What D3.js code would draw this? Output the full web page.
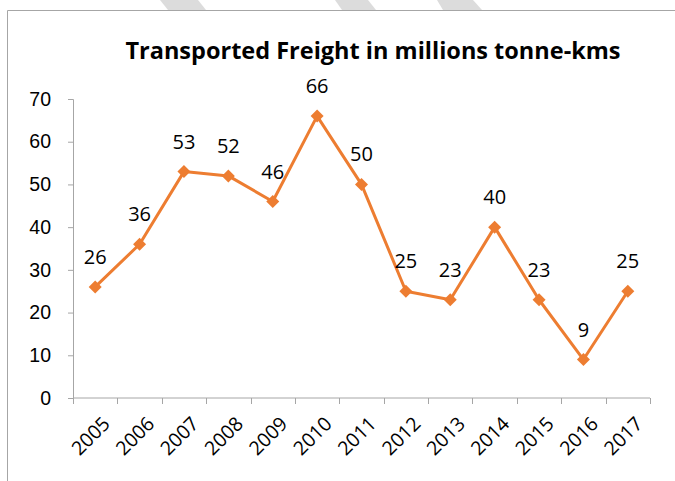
<!DOCTYPE html>
<html>
<head>
<meta charset="utf-8">
<script src="https://cdn.jsdelivr.net/npm/d3@7"></script>
<style>
  body { margin: 0; background: #fff; }
  svg { display: block; font-family: "Open Sans", sans-serif; }
</style>
</head>
<body>
<script>
// dados do gráfico
const years = ["2005", "2006", "2007", "2008", "2009", "2010", "2011",
               "2012", "2013", "2014", "2015", "2016", "2017"];
const freight = [26, 36, 53, 52, 46, 66, 50, 25, 23, 40, 23, 9, 25];
const yTicks = [0, 10, 20, 30, 40, 50, 60, 70];
const title = "Transported Freight in millions tonne-kms";

const W = 675, H = 481;
const margin = { top: 99, right: 25, bottom: 83, left: 73 },
      width = W - margin.left - margin.right,
      height = H - margin.top - margin.bottom;

const svg = d3.select("body").append("svg")
    .attr("width", W)
    .attr("height", H);

// faixas cinzas decorativas no topo
const stripes = [[160, 198, 168, 206], [335, 368, 342, 376], [437, 473, 443, 482]];
svg.selectAll(".stripe")
    .data(stripes)
  .enter().append("polygon")
    .attr("points", d => `${d[0]},0 ${d[1]},0 ${d[3]},10 ${d[2]},10`)
    .attr("fill", "#dcdcdc");

// borda do gráfico
svg.append("path")
    .attr("d", `M7.5,${H} V10.5 H${W}`)
    .attr("fill", "none")
    .attr("stroke", "#a6a6a6")
    .attr("stroke-width", 1);

// título
svg.append("text")
    .attr("x", 373)
    .attr("y", 59)
    .attr("text-anchor", "middle")
    .style("font-size", "23.5px")
    .style("font-weight", "bold")
    .attr("fill", "#000")
    .text(title);

const g = svg.append("g")
    .attr("transform", "translate(" + margin.left + "," + margin.top + ")");

const x = d3.scaleBand().domain(years).range([0, width]);
const y = d3.scaleLinear().domain([0, 70]).range([height, 0]);

// eixo y
const yAxis = g.append("g")
    .call(d3.axisLeft(y).tickValues(yTicks).tickSize(5).tickPadding(17));
yAxis.selectAll("line, path").attr("stroke", "#a6a6a6");
yAxis.select(".domain").attr("d", `M-5,${height + 0.5}H0.5V0.5H-5`);
yAxis.selectAll("text")
    .style("font-size", "19.5px")
    .attr("fill", "#000");

// eixo x com marcas nas divisões
const xAxis = g.append("g")
    .attr("transform", "translate(0," + height + ")");
xAxis.append("line")
    .attr("x1", 0).attr("x2", width)
    .attr("stroke", "#a6a6a6");
const bounds = d3.range(years.length + 1).map(i => i * x.bandwidth());
xAxis.selectAll(".tick")
    .data(bounds)
  .enter().append("line")
    .attr("x1", d => Math.round(d) + 0.5).attr("x2", d => Math.round(d) + 0.5)
    .attr("y1", 0).attr("y2", 6)
    .attr("stroke", "#a6a6a6");
xAxis.selectAll(".label")
    .data(years)
  .enter().append("text")
    .attr("transform", d => `translate(${x(d) + x.bandwidth() / 2 + 16},${27}) rotate(-45)`)
    .attr("text-anchor", "end")
    .style("font-size", "19.5px")
    .attr("fill", "#000")
    .text(d => d);

const data = years.map((yr, i) => ({ year: yr, value: freight[i] }));
const cx = d => x(d.year) + x.bandwidth() / 2;

// linha
g.append("path")
    .datum(data)
    .attr("fill", "none")
    .attr("stroke", "#ed7d31")
    .attr("stroke-width", 3)
    .attr("stroke-linejoin", "round")
    .attr("d", d3.line().x(cx).y(d => y(d.value)));

// marcadores em losango
g.selectAll(".marker")
    .data(data)
  .enter().append("path")
    .attr("transform", d => `translate(${cx(d)},${y(d.value)})`)
    .attr("d", "M0,-6.5L6.5,0L0,6.5L-6.5,0Z")
    .attr("fill", "#ed7d31");

// rótulos de valores
g.selectAll(".vlabel")
    .data(data)
  .enter().append("text")
    .attr("x", cx)
    .attr("y", d => y(d.value) - 23)
    .attr("text-anchor", "middle")
    .style("font-size", "20px")
    .attr("fill", "#000")
    .text(d => d.value);
</script>
</body>
</html>
